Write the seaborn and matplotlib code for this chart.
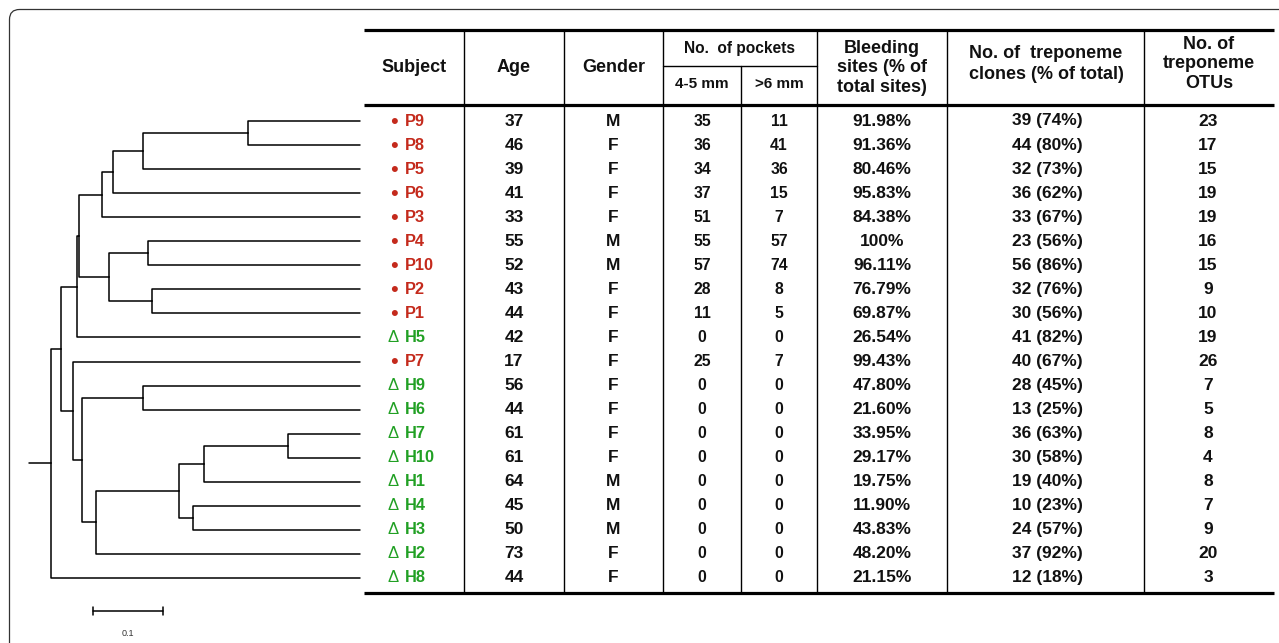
import numpy as np
import pandas as pd
import matplotlib
matplotlib.use("Agg")
import matplotlib.pyplot as plt
from matplotlib.patches import FancyBboxPatch
import seaborn as sns

# ---- table data (rows in dendrogram order, top to bottom) ----
subjects = ["P9", "P8", "P5", "P6", "P3", "P4", "P10", "P2", "P1", "H5",
            "P7", "H9", "H6", "H7", "H10", "H1", "H4", "H3", "H2", "H8"]
ages = [37, 46, 39, 41, 33, 55, 52, 43, 44, 42, 17, 56, 44, 61, 61, 64, 45, 50, 73, 44]
genders = ["M", "F", "F", "F", "F", "M", "M", "F", "F", "F",
           "F", "F", "F", "F", "F", "M", "M", "M", "F", "F"]
pockets_4_5 = [35, 36, 34, 37, 51, 55, 57, 28, 11, 0, 25, 0, 0, 0, 0, 0, 0, 0, 0, 0]
pockets_6 = [11, 41, 36, 15, 7, 57, 74, 8, 5, 0, 7, 0, 0, 0, 0, 0, 0, 0, 0, 0]
bleeding = ["91.98%", "91.36%", "80.46%", "95.83%", "84.38%", "100%", "96.11%", "76.79%",
            "69.87%", "26.54%", "99.43%", "47.80%", "21.60%", "33.95%", "29.17%", "19.75%",
            "11.90%", "43.83%", "48.20%", "21.15%"]
clones = [39, 44, 32, 36, 33, 23, 56, 32, 30, 41, 40, 28, 13, 36, 30, 19, 10, 24, 37, 12]
clone_pct = [74, 80, 73, 62, 67, 56, 86, 76, 56, 82, 67, 45, 25, 63, 58, 40, 23, 57, 92, 18]
otus = [23, 17, 15, 19, 19, 16, 15, 9, 10, 19, 26, 7, 5, 8, 4, 8, 7, 9, 20, 3]

# ---- dendrogram: merge k creates node 20+k ----
merge_left = [0, 20, 21, 22, 5, 7, 24, 23, 27, 11, 13, 30, 16, 31, 33, 29, 10, 28, 37]
merge_right = [1, 2, 3, 4, 6, 8, 25, 26, 9, 12, 14, 15, 17, 32, 18, 34, 35, 36, 19]
merge_depth = [0.281, 0.131, 0.089, 0.073, 0.139, 0.144, 0.083, 0.040, 0.037, 0.131,
               0.339, 0.219, 0.203, 0.183, 0.064, 0.044, 0.031, 0.014, 0.0]
leaf_depth = 0.441
root_stub = -0.031
scale_start, scale_len = 0.06, 0.1

RED = "#c42a1c"
GREEN = "#21a024"

sns.set_theme(style="white")
plt.rcParams["font.family"] = ["Liberation Sans", "DejaVu Sans"]

W, H = 1279, 643
ROW0, ROWH = 121, 24.05  # pixel y of first row, row spacing

fig = plt.figure(figsize=(W / 100, H / 100), dpi=100)

# tree axes: x in branch-length units, y in row index
ax_tree = fig.add_axes([0, 0, 1, 1])
ax_tree.set_xlim(-51 / 700, (W - 51) / 700)
ax_tree.set_ylim((H - ROW0) / ROWH, -ROW0 / ROWH)
ax_tree.axis("off")
ax_tree.patch.set_alpha(0)

n = len(subjects)
node_y = {i: float(i) for i in range(n)}
node_d = {i: leaf_depth for i in range(n)}
segs = []
for k, (a, b, d) in enumerate(zip(merge_left, merge_right, merge_depth)):
    nid = n + k
    node_y[nid] = (node_y[a] + node_y[b]) / 2
    node_d[nid] = d
    for c in (a, b):
        segs.append(pd.DataFrame({"seg": len(segs),
                                  "x": [d, d, node_d[c]],
                                  "y": [node_y[nid], node_y[c], node_y[c]]}))
root = n + len(merge_depth) - 1
segs.append(pd.DataFrame({"seg": len(segs), "x": [root_stub, node_d[root]],
                          "y": [node_y[root], node_y[root]]}))
tree_df = pd.concat(segs, ignore_index=True)
sns.lineplot(data=tree_df, x="x", y="y", units="seg", estimator=None, sort=False,
             color="black", lw=1.1, ax=ax_tree)

# scale bar
sb_y = (611 - ROW0) / ROWH
ax_tree.plot([scale_start, scale_start + scale_len], [sb_y, sb_y], color="black", lw=1.1)
for xx in (scale_start, scale_start + scale_len):
    ax_tree.plot([xx, xx], [sb_y - 0.15, sb_y + 0.15], color="black", lw=1.1)
ax_tree.text(scale_start + scale_len / 2, (633 - ROW0) / ROWH, "0.1", ha="center",
             va="center", fontsize=6.5, color="#333333")
ax_tree.set_xlabel("")
ax_tree.set_ylabel("")

# table axes in pixel coordinates
ax = fig.add_axes([0, 0, 1, 1])
ax.set_xlim(0, W)
ax.set_ylim(H, 0)
ax.axis("off")
ax.patch.set_alpha(0)

# rounded frame
ax.add_patch(FancyBboxPatch((9.5, 9.5), W + 50, H + 50,
                            boxstyle="round,pad=0,rounding_size=10",
                            fill=False, edgecolor="#333333", lw=0.9))

x_left, x_right = 364, 1274
dividers = [464, 564, 663, 741, 817, 947, 1144]
y_top, y_head, y_bot, y_sub = 30, 105, 593, 66
for yy in (y_top, y_head, y_bot):
    ax.plot([x_left, x_right], [yy, yy], color="black", lw=2.3, solid_capstyle="butt")
for xd in dividers:
    ax.plot([xd, xd], [y_sub if xd == 741 else y_top, y_bot], color="black", lw=1.0)
ax.plot([663, 817], [y_sub, y_sub], color="black", lw=1.0)

hdr = dict(ha="center", va="center", fontsize=13, fontweight="bold", color="#111111")
ax.text(414, 68, "Subject", **hdr)
ax.text(514, 68, "Age", **hdr)
ax.text(613.5, 68, "Gender", **hdr)
ax.text(740, 48, "No.  of pockets", **{**hdr, "fontsize": 11.2})
ax.text(702, 84, "4-5 mm", **{**hdr, "fontsize": 11})
ax.text(779, 84, ">6 mm", **{**hdr, "fontsize": 11})
ax.text(882, 68, "Bleeding\nsites (% of\ntotal sites)", linespacing=1.22, **hdr)
ax.text(1046, 64, "No. of  treponeme\nclones (% of total)", linespacing=1.35, **hdr)
ax.text(1209, 64, "No. of\ntreponeme\nOTUs", linespacing=1.2, **hdr)

cell = dict(ha="center", va="center", fontweight="bold", color="#111111")
for i, s in enumerate(subjects):
    y = ROW0 + ROWH * i
    col = RED if s.startswith("P") else GREEN
    if s.startswith("P"):
        ax.text(394, y + 1.5, "\u2022", ha="center", va="center", fontsize=16, color=col)
    else:
        ax.text(393, y, "\u0394", ha="center", va="center", fontsize=12, color=col)
    ax.text(405, y, s, ha="left", va="center", fontsize=11.8, fontweight="bold", color=col)
    ax.text(514, y, str(ages[i]), fontsize=12.5, **cell)
    ax.text(613, y, genders[i], fontsize=12.5, **cell)
    ax.text(702, y, str(pockets_4_5[i]), fontsize=11.3, **cell)
    ax.text(779, y, str(pockets_6[i]), fontsize=11.3, **cell)
    ax.text(882, y, bleeding[i], fontsize=12.5, **cell)
    ax.text(1047, y, f"{clones[i]} ({clone_pct[i]}%)", fontsize=12.5, **cell)
    ax.text(1208, y, str(otus[i]), fontsize=12.5, **cell)

fig.savefig("out.png", dpi=100)
